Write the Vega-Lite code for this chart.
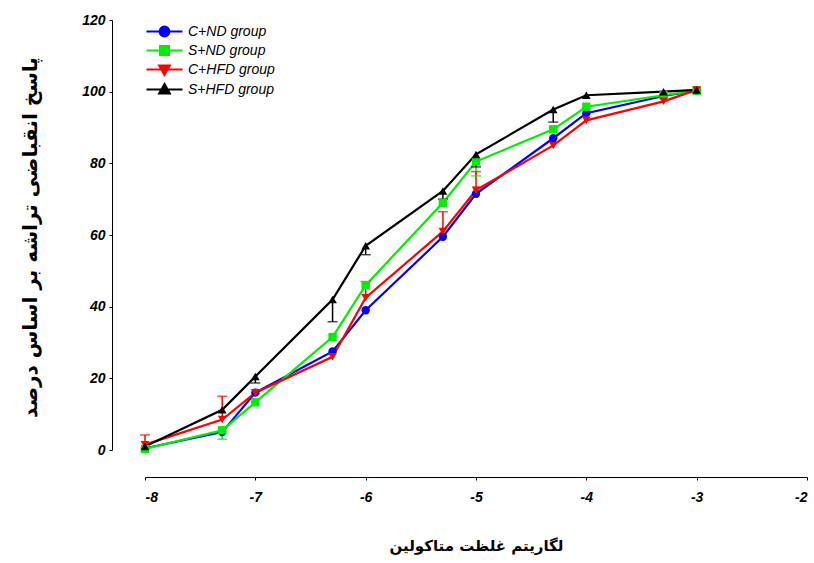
{
  "$schema": "https://vega.github.io/schema/vega-lite/v6.json",
  "autosize": {"type": "none"},
  "width": 662,
  "height": 430,
  "padding": {"left": 145, "top": 20, "right": 7, "bottom": 113},
  "background": "white",
  "config": {"view": {"stroke": null}},
  "data": {
    "values": [
      {"group": "C+ND group", "x": -8, "y": 0.5, "e": null},
      {"group": "C+ND group", "x": -7.3, "y": 5, "e": null},
      {"group": "C+ND group", "x": -7, "y": 16, "e": null},
      {"group": "C+ND group", "x": -6.3, "y": 27.5, "e": null},
      {"group": "C+ND group", "x": -6, "y": 39, "e": null},
      {"group": "C+ND group", "x": -5.3, "y": 59.5, "e": null},
      {"group": "C+ND group", "x": -5, "y": 71.5, "e": null},
      {"group": "C+ND group", "x": -4.3, "y": 87, "e": null},
      {"group": "C+ND group", "x": -4, "y": 94, "e": null},
      {"group": "C+ND group", "x": -3.3, "y": 98.8, "e": null},
      {"group": "C+ND group", "x": -3, "y": 100.3, "e": null},
      {"group": "S+ND group", "x": -8, "y": 0.3, "e": null},
      {"group": "S+ND group", "x": -7.3, "y": 5.5, "e": 3},
      {"group": "S+ND group", "x": -7, "y": 13.3, "e": null},
      {"group": "S+ND group", "x": -6.3, "y": 31.5, "e": null},
      {"group": "S+ND group", "x": -6, "y": 46, "e": null},
      {"group": "S+ND group", "x": -5.3, "y": 69, "e": null},
      {"group": "S+ND group", "x": -5, "y": 80.5, "e": 76.5},
      {"group": "S+ND group", "x": -4.3, "y": 89.5, "e": null},
      {"group": "S+ND group", "x": -4, "y": 95.8, "e": null},
      {"group": "S+ND group", "x": -3.3, "y": 99, "e": null},
      {"group": "S+ND group", "x": -3, "y": 100.3, "e": null},
      {"group": "C+HFD group", "x": -8, "y": 1.5, "e": 4.2},
      {"group": "C+HFD group", "x": -7.3, "y": 8.5, "e": 15},
      {"group": "C+HFD group", "x": -7, "y": 16, "e": null},
      {"group": "C+HFD group", "x": -6.3, "y": 26, "e": null},
      {"group": "C+HFD group", "x": -6, "y": 42.5, "e": 47},
      {"group": "C+HFD group", "x": -5.3, "y": 61, "e": 66.5},
      {"group": "C+HFD group", "x": -5, "y": 72.5, "e": 77.7},
      {"group": "C+HFD group", "x": -4.3, "y": 85, "e": null},
      {"group": "C+HFD group", "x": -4, "y": 92, "e": null},
      {"group": "C+HFD group", "x": -3.3, "y": 97.3, "e": null},
      {"group": "C+HFD group", "x": -3, "y": 100.5, "e": null},
      {"group": "S+HFD group", "x": -8, "y": 1, "e": null},
      {"group": "S+HFD group", "x": -7.3, "y": 11.2, "e": null},
      {"group": "S+HFD group", "x": -7, "y": 20.5, "e": 18.7},
      {"group": "S+HFD group", "x": -6.3, "y": 42, "e": 35.8},
      {"group": "S+HFD group", "x": -6, "y": 57, "e": 54.5},
      {"group": "S+HFD group", "x": -5.3, "y": 72.3, "e": 70},
      {"group": "S+HFD group", "x": -5, "y": 82.5, "e": 79},
      {"group": "S+HFD group", "x": -4.3, "y": 95, "e": 91.5},
      {"group": "S+HFD group", "x": -4, "y": 99, "e": null},
      {"group": "S+HFD group", "x": -3.3, "y": 100, "e": null},
      {"group": "S+HFD group", "x": -3, "y": 100.5, "e": null}
    ]
  },
  "encoding": {
    "x": {
      "field": "x", "type": "quantitative",
      "scale": {"domain": [-8, -2], "nice": false, "zero": false},
      "axis": {
        "title": "لگاریتم غلظت متاکولین",
        "values": [-8, -7, -6, -5, -4, -3, -2],
        "labelExpr": "'' + datum.value",
        "offset": 27,
        "grid": false,
        "domainColor": "#000000", "domainWidth": 1,
        "tickColor": "#000000", "tickSize": 3,
        "labelFont": "Liberation Sans", "labelFontWeight": "bold", "labelFontStyle": "italic",
        "labelFontSize": 14, "labelColor": "#000000", "labelPadding": 10,
        "titleFont": "DejaVu Sans", "titleFontWeight": "bold", "titleFontSize": 15, "titleColor": "#000000",
        "titleBaseline": "middle", "titleY": 68
      }
    },
    "y": {
      "field": "y", "type": "quantitative",
      "scale": {"domain": [0, 120], "nice": false},
      "axis": {
        "title": "پاسخ انقباضی تراشه بر اساس درصد",
        "values": [0, 20, 40, 60, 80, 100, 120],
        "offset": 33,
        "grid": false,
        "domainColor": "#000000", "domainWidth": 1,
        "tickColor": "#000000", "tickSize": 3,
        "labelFont": "Liberation Sans", "labelFontWeight": "bold", "labelFontStyle": "italic",
        "labelFontSize": 14, "labelColor": "#000000", "labelPadding": 4,
        "titleFont": "DejaVu Sans", "titleFontWeight": "bold", "titleFontSize": 20, "titleColor": "#000000",
        "titleAngle": -90, "titleBaseline": "middle", "titleX": -82, "titleY": 217
      }
    },
    "color": {
      "field": "group", "type": "nominal",
      "scale": {
        "domain": ["C+ND group", "S+ND group", "C+HFD group", "S+HFD group"],
        "range": ["#0000ff", "#00ee00", "#ff0000", "#000000"]
      },
      "legend": {
        "orient": "none", "legendX": 10, "legendY": 2,
        "title": null, "padding": 0,
        "symbolSize": 256, "rowPadding": -2, "labelOffset": 14,
        "symbolStrokeWidth": 2.2, "symbolOpacity": 1,
        "labelFont": "Liberation Sans", "labelFontStyle": "italic", "labelFontSize": 14,
        "labelColor": "#000000", "labelLimit": 0
      }
    }
  },
  "layer": [
    {
      "mark": {"type": "line", "strokeWidth": 2.2},
      "encoding": {"detail": {"field": "group"}}
    },
    {
      "transform": [{"filter": "datum.e != null"}],
      "mark": {"type": "rule", "strokeWidth": 1.5},
      "encoding": {"y2": {"field": "e"}}
    },
    {
      "transform": [{"filter": "datum.e != null"}],
      "mark": {"type": "tick", "orient": "horizontal", "size": 10, "thickness": 1.5},
      "encoding": {"y": {"field": "e", "type": "quantitative"}}
    },
    {
      "transform": [{"filter": "datum.group === 'C+ND group'"}],
      "mark": {"type": "point", "filled": true, "opacity": 1, "size": 70, "shape": "circle"}
    },
    {
      "transform": [{"filter": "datum.group === 'S+ND group'"}],
      "mark": {"type": "point", "filled": true, "opacity": 1, "size": 70, "shape": "square"}
    },
    {
      "transform": [{"filter": "datum.group === 'C+HFD group'"}],
      "mark": {"type": "point", "filled": true, "opacity": 1, "size": 75, "shape": "triangle-down"}
    },
    {
      "transform": [{"filter": "datum.group === 'S+HFD group'"}],
      "mark": {"type": "point", "filled": true, "opacity": 1, "size": 75, "shape": "triangle-up"}
    },
    {
      "transform": [{"filter": "datum.x < -100"}],
      "mark": {"type": "point", "filled": true, "opacity": 1, "size": 256, "strokeWidth": 2.2},
      "encoding": {
        "shape": {
          "field": "group", "type": "nominal",
          "scale": {
            "domain": ["C+ND group", "S+ND group", "C+HFD group", "S+HFD group"],
            "range": [
              "M-2.25,0L2.25,0M-0.6,0A0.6,0.6,0,1,0,0.6,0A0.6,0.6,0,1,0,-0.6,0Z",
              "M-2.25,0L2.25,0M-0.55,-0.55L0.55,-0.55L0.55,0.55L-0.55,0.55Z",
              "M-2.25,0L2.25,0M-0.65,-0.5L0.65,-0.5L0,0.65Z",
              "M-2.25,0L2.25,0M-0.65,0.5L0.65,0.5L0,-0.65Z"
            ]
          }
        },
        "stroke": {
          "field": "group", "type": "nominal",
          "scale": {
            "domain": ["C+ND group", "S+ND group", "C+HFD group", "S+HFD group"],
            "range": ["#0000ff", "#00ee00", "#ff0000", "#000000"]
          }
        }
      }
    }
  ]
}
